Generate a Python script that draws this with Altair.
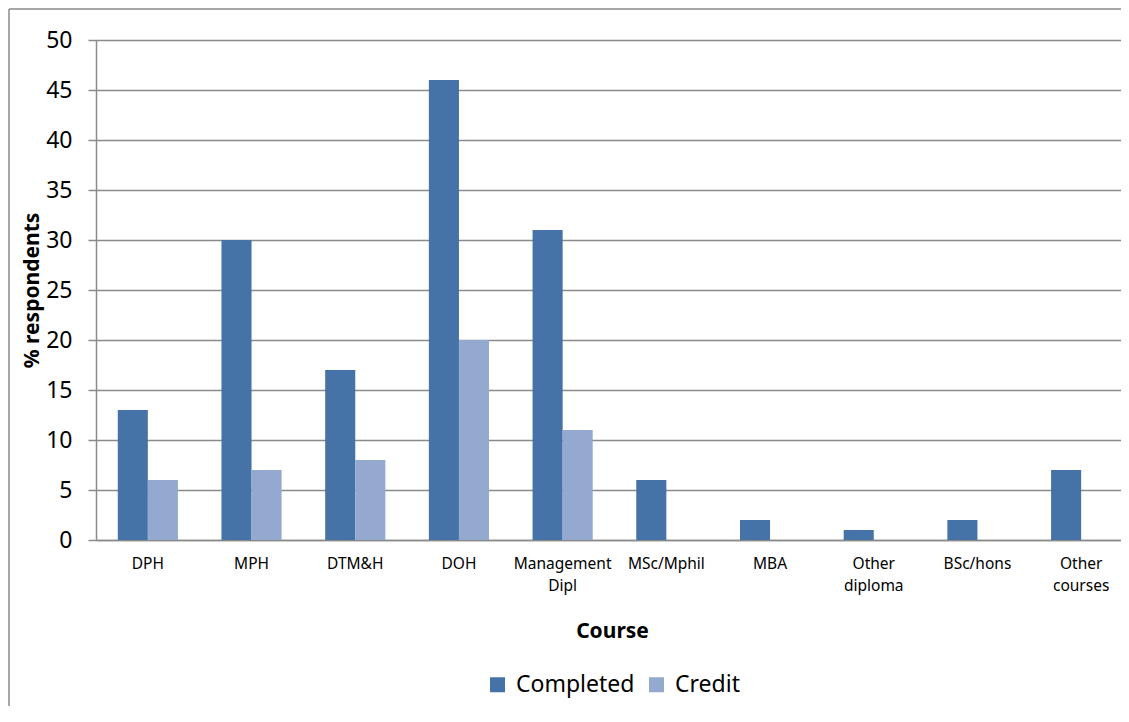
import altair as alt
import pandas as pd

courses = ["DPH", "MPH", "DTM&H", "DOH", "Management Dipl", "MSc/Mphil",
           "MBA", "Other diploma", "BSc/hons", "Other courses"]
completed = [13, 30, 17, 46, 31, 6, 2, 1, 2, 7]
credit_courses = ["DPH", "MPH", "DTM&H", "DOH", "Management Dipl"]
credit = [6, 7, 8, 20, 11]
series = ["Completed", "Credit"]
colors = ["#4572A7", "#93A9CF"]

rows = [{"Course": c, "Type": "Completed", "Value": v} for c, v in zip(courses, completed)]
rows += [{"Course": c, "Type": "Credit", "Value": v} for c, v in zip(credit_courses, credit)]
df = pd.DataFrame(rows)

W, H = 1025, 500
FONT = "Noto Sans"
GRID = "#8a8a8a"

bars = alt.Chart(df).mark_bar().encode(
    x=alt.X("Course:N", sort=courses,
            scale=alt.Scale(paddingInner=0.42, paddingOuter=0.21, range=[0, 1037]),
            axis=alt.Axis(title="Course", labelAngle=0, ticks=False,
                          labelExpr="split(datum.label, ' ')",
                          labelFont=FONT, labelFontSize=15.5, labelColor="#000",
                          labelPadding=16, labelLineHeight=22,
                          labelBaseline="top",
                          titleFont=FONT, titleFontSize=21, titleFontWeight="bold",
                          titleColor="#000", titleX=516, titleY=91, titleBaseline="middle",
                          domainColor=GRID, domainWidth=1.5)),
    xOffset=alt.XOffset("Type:N", sort=series, scale=alt.Scale(domain=series, paddingInner=0, paddingOuter=0)),
    y=alt.Y("Value:Q", scale=alt.Scale(domain=[0, 50]),
            axis=alt.Axis(title="% respondents", values=list(range(0, 51, 5)),
                          labelFont=FONT, labelFontSize=23, labelColor="#000",
                          labelPadding=16,
                          tickSize=8, tickColor=GRID, tickWidth=1.5,
                          domainColor=GRID, domainWidth=1.5,
                          gridColor=GRID, gridWidth=1.5,
                          titleFont=FONT, titleFontSize=21, titleFontWeight="bold",
                          titleColor="#000", titleX=-64, titleY=250,
                          titleAngle=270, titleAlign="center", titleBaseline="middle")),
    color=alt.Color("Type:N", sort=series,
                    scale=alt.Scale(domain=series, range=colors),
                    legend=alt.Legend(title=None, orient="none", legendX=390, legendY=633,
                                      direction="horizontal", symbolType="square",
                                      symbolSize=225, symbolStrokeWidth=0,
                                      labelFont=FONT, labelFontSize=23, labelColor="#000",
                                      labelOffset=7, columnPadding=10)),
)

frame_df = pd.DataFrame({"a": [0]})
frame_left = alt.Chart(frame_df).mark_rule(color=GRID, strokeWidth=1.5, clip=False).encode(
    x=alt.value(-87), y=alt.value(-31), y2=alt.value(H + 400),
)
frame_top = alt.Chart(frame_df).mark_rule(color=GRID, strokeWidth=1.5, clip=False).encode(
    x=alt.value(-87), x2=alt.value(W + 100), y=alt.value(-31),
)

chart = alt.layer(frame_left, frame_top, bars).properties(
    width=W, height=H,
    autosize=alt.AutoSizeParams(type="none"),
    padding={"left": 88, "top": 32, "right": 0, "bottom": 166},
).configure_view(stroke=None).configure(background="white")

chart.save("out.html", embed_options={"renderer": "svg", "actions": False})
